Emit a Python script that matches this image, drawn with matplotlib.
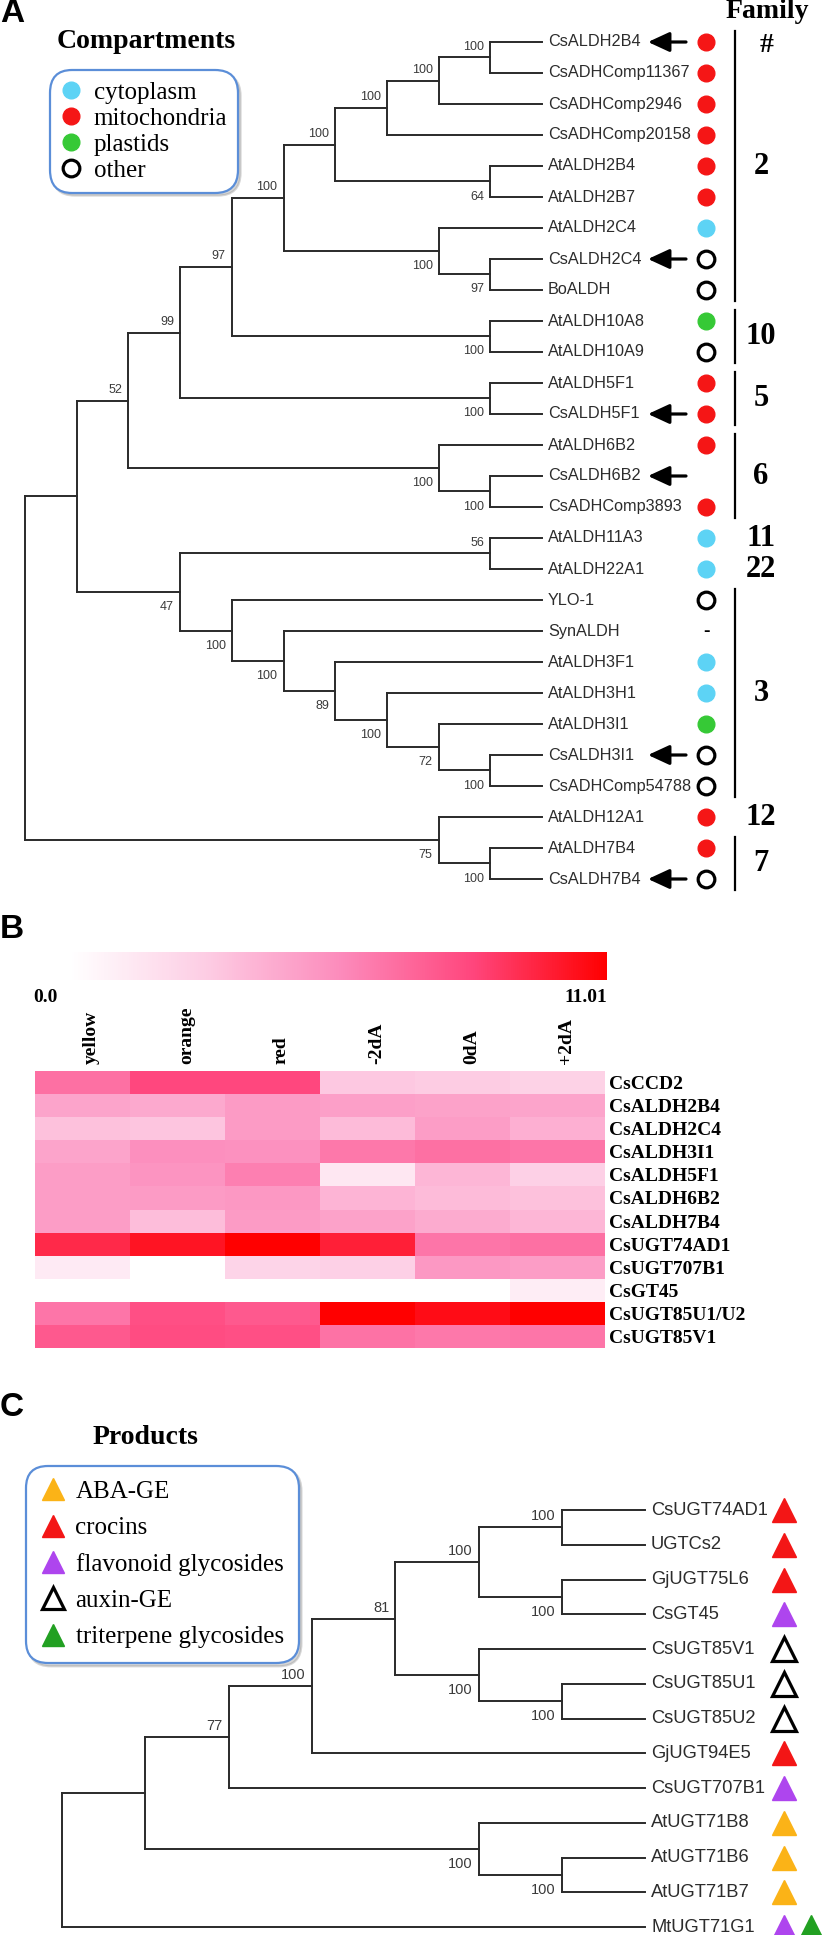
import matplotlib
matplotlib.use("Agg")
import matplotlib.pyplot as plt
import matplotlib.transforms as mtransforms
from matplotlib import font_manager
from matplotlib.collections import LineCollection
from matplotlib.colors import LinearSegmentedColormap
from matplotlib.lines import Line2D
import numpy as np

W, H, DPI = 822, 1935, 100

# ---- panel A: ALDH tree (topology + bootstrap), compartments, families ----
ALDH_NEWICK = (
    "((((((((((CsALDH2B4,CsADHComp11367)100,CsADHComp2946)100,CsADHComp20158)100,"
    "(AtALDH2B4,AtALDH2B7)64)100,(AtALDH2C4,(CsALDH2C4,BoALDH)97)100)100,"
    "(AtALDH10A8,AtALDH10A9)100)97,(AtALDH5F1,CsALDH5F1)100)99,"
    "(AtALDH6B2,(CsALDH6B2,CsADHComp3893)100)100)52,"
    "((AtALDH11A3,AtALDH22A1)56,(YLO-1,(SynALDH,(AtALDH3F1,(AtALDH3H1,"
    "(AtALDH3I1,(CsALDH3I1,CsADHComp54788)100)72)100)89)100)100)47),"
    "(AtALDH12A1,(AtALDH7B4,CsALDH7B4)100)75);"
)
ALDH_COMPARTMENT = [
    "mitochondria", "mitochondria", "mitochondria", "mitochondria", "mitochondria",
    "mitochondria", "cytoplasm", "other", "other", "plastids", "other",
    "mitochondria", "mitochondria", "mitochondria", "", "mitochondria",
    "cytoplasm", "cytoplasm", "other", "-", "cytoplasm", "cytoplasm", "plastids",
    "other", "other", "mitochondria", "mitochondria", "other",
]
ALDH_ARROWS = ["CsALDH2B4", "CsALDH2C4", "CsALDH5F1", "CsALDH6B2", "CsALDH3I1", "CsALDH7B4"]
FAMILY_NAMES = ["2", "10", "5", "6", "11", "22", "3", "12", "7"]
FAMILY_SPANS = [(0, 8), (9, 10), (11, 12), (13, 15), (16, 16), (17, 17), (18, 24), (25, 25), (26, 27)]
FAMILY_BAR = [True, True, True, True, False, False, True, False, True]
COMPARTMENTS = ["cytoplasm", "mitochondria", "plastids", "other"]
COMPARTMENT_COLORS = {"cytoplasm": "#5dd3f5", "mitochondria": "#f51616", "plastids": "#36c936"}

# ---- panel B: expression heatmap ----
HEAT_COLS = ["yellow", "orange", "red", "-2dA", "0dA", "+2dA"]
HEAT_ROWS = ["CsCCD2", "CsALDH2B4", "CsALDH2C4", "CsALDH3I1", "CsALDH5F1", "CsALDH6B2",
             "CsALDH7B4", "CsUGT74AD1", "CsUGT707B1", "CsGT45", "CsUGT85U1/U2", "CsUGT85V1"]
HEAT_VALUES = [
    [6.6, 8.2, 8.2, 3.0, 2.8, 2.5],
    [4.5, 4.3, 4.9, 4.7, 4.6, 4.5],
    [3.3, 3.1, 4.9, 3.5, 4.8, 4.0],
    [4.5, 5.4, 5.3, 6.3, 6.6, 6.4],
    [4.8, 5.2, 6.0, 1.3, 3.7, 2.6],
    [4.8, 4.9, 5.0, 3.8, 3.5, 3.3],
    [4.8, 3.4, 4.9, 4.6, 4.2, 3.7],
    [9.4, 10.2, 11.0, 9.8, 6.4, 6.6],
    [1.2, 0.0, 2.4, 2.6, 5.0, 4.8],
    [0.0, 0.0, 0.0, 0.0, 0.0, 1.0],
    [6.4, 7.9, 7.5, 11.0, 10.5, 11.0],
    [7.5, 8.0, 7.9, 6.5, 6.3, 6.4],
]
HEAT_MIN, HEAT_MAX = 0.0, 11.01

# ---- panel C: UGT tree and products ----
UGT_NEWICK = (
    "(((((((CsUGT74AD1,UGTCs2)100,(GjUGT75L6,CsGT45)100)100,"
    "(CsUGT85V1,(CsUGT85U1,CsUGT85U2)100)100)81,GjUGT94E5)100,CsUGT707B1)77,"
    "(AtUGT71B8,(AtUGT71B6,AtUGT71B7)100)100),MtUGT71G1);"
)
UGT_PRODUCTS = [
    ["crocins"], ["crocins"], ["crocins"], ["flavonoid glycosides"],
    ["auxin-GE"], ["auxin-GE"], ["auxin-GE"], ["crocins"], ["flavonoid glycosides"],
    ["ABA-GE"], ["ABA-GE"], ["ABA-GE"], ["flavonoid glycosides", "triterpene glycosides"],
]
PRODUCTS = ["ABA-GE", "crocins", "flavonoid glycosides", "auxin-GE", "triterpene glycosides"]
PRODUCT_COLORS = {"ABA-GE": "#fbb317", "crocins": "#f31616", "flavonoid glycosides": "#ae45ee",
                  "triterpene glycosides": "#22a022"}


def has_font(name):
    try:
        font_manager.findfont(font_manager.FontProperties(family=name), fallback_to_default=False)
        return True
    except ValueError:
        return False


SANS = "Liberation Sans"
SERIF = "Liberation Serif"
# panel C uses a condensed face in the original; fall back to a smaller regular one
if has_font("Liberation Sans Narrow"):
    NARROW, NARROW_TIP, NARROW_BOOT = "Liberation Sans Narrow", 15, 12
else:
    NARROW, NARROW_TIP, NARROW_BOOT = SANS, 13.2, 10.5


def parse_newick(s):
    s = s.strip().rstrip(";")
    pos = 0

    def node():
        nonlocal pos
        if s[pos] == "(":
            pos += 1
            kids = [node()]
            while s[pos] == ",":
                pos += 1
                kids.append(node())
            pos += 1
            start = pos
            while pos < len(s) and s[pos] not in ",)":
                pos += 1
            n = {"children": kids, "label": s[start:pos], "name": ""}
            for k in kids:
                k["parent"] = n
            return n
        start = pos
        while s[pos] not in ",)":
            pos += 1
        return {"children": [], "label": "", "name": s[start:pos]}

    root = node()
    root["parent"] = None
    return root


def layout(root):
    tips, nodes = [], []

    def height(n):
        n["h"] = 0 if not n["children"] else 1 + max(height(c) for c in n["children"])
        return n["h"]

    def place(n):
        nodes.append(n)
        if not n["children"]:
            n["y"] = len(tips)
            tips.append(n)
        else:
            for c in n["children"]:
                place(c)
            n["y"] = (n["children"][0]["y"] + n["children"][-1]["y"]) / 2

    total = height(root)
    place(root)
    for n in nodes:
        n["x"] = total - n["h"]
    return tips, nodes, total


fig = plt.figure(figsize=(W / DPI, H / DPI), dpi=DPI)


def px_axes(x0, y0, w, h):
    return fig.add_axes([x0 / W, 1 - (y0 + h) / H, w / W, h / H])


def fxy(px, py):
    return px / W, 1 - py / H


def shifted(ax, dx, dy):
    return mtransforms.offset_copy(ax.transData, fig=fig, x=dx, y=dy, units="dots")


def draw_tree(ax, nodes, boot_font, boot_size):
    segs = []
    for n in nodes:
        if n["children"]:
            ys = [c["y"] for c in n["children"]]
            segs.append([(n["x"], min(ys)), (n["x"], max(ys))])
            for c in n["children"]:
                segs.append([(n["x"], c["y"]), (c["x"], c["y"])])
    ax.add_collection(LineCollection(segs, colors="#2a2a2a", linewidths=1.4, capstyle="projecting"))
    for n in nodes:
        if n["children"] and n["label"] and n["parent"] is not None:
            upper = n["parent"]["children"][0] is n
            ax.text(n["x"], n["y"], n["label"], transform=shifted(ax, -6, 11 if upper else -15),
                    ha="right", va="center", fontsize=boot_size, family=boot_font, color="#3a3a3a")


legend_style = dict(frameon=True, fancybox=True, framealpha=1, edgecolor="#5b8ed8",
                    shadow={"color": "0.55", "alpha": 0.35}, bbox_transform=fig.transFigure,
                    loc="upper left", prop={"family": SERIF, "size": 18})

# ================= panel A =================
tree_a = parse_newick(ALDH_NEWICK)
tips_a, nodes_a, depth_a = layout(tree_a)
A_X0, A_STEP, A_Y0, A_DY, A_H = 25, 51.7, 42, 31, 905
ax_a = px_axes(0, 0, W, A_H)
ax_a.set_xlim(-A_X0 / A_STEP, (W - A_X0) / A_STEP)
ax_a.set_ylim((A_H - A_Y0) / A_DY, -A_Y0 / A_DY)
ax_a.axis("off")


def a_x(px):
    return (px - A_X0) / A_STEP


draw_tree(ax_a, nodes_a, SANS, 9)

for i, tip in enumerate(tips_a):
    ax_a.text(tip["x"], tip["y"], tip["name"], transform=shifted(ax_a, 6, 0),
              ha="left", va="center", fontsize=11.7, family=SANS, color="#2c2c2c")
    comp = ALDH_COMPARTMENT[i]
    if comp in COMPARTMENT_COLORS:
        ax_a.plot(a_x(706), tip["y"], "o", ms=12, mfc=COMPARTMENT_COLORS[comp],
                  mec=COMPARTMENT_COLORS[comp])
    elif comp == "other":
        ax_a.plot(a_x(706), tip["y"], "o", ms=12, mfc="white", mec="black", mew=2.3)
    elif comp == "-":
        ax_a.text(a_x(706), tip["y"], "-", ha="center", va="center", fontsize=14,
                  fontweight="bold", family=SANS)
    if tip["name"] in ALDH_ARROWS:
        ax_a.annotate("", xy=(a_x(648), tip["y"]), xytext=(a_x(686), tip["y"]),
                      arrowprops=dict(arrowstyle="-|>,head_length=0.65,head_width=0.3",
                                      color="black", lw=2.3, shrinkA=0, shrinkB=0,
                                      mutation_scale=20))

for name, (first, last), bar in zip(FAMILY_NAMES, FAMILY_SPANS, FAMILY_BAR):
    if bar:
        ax_a.plot([a_x(735), a_x(735)], [first - 0.35, last + 0.35], color="black", lw=1.6)
    ax_a.text(a_x(761), (first + last) / 2, name, ha="center", va="center",
              fontsize=22, fontweight="bold", family=SERIF)
ax_a.text(a_x(767), -0.97, "Family", ha="center", va="center", fontsize=20,
          fontweight="bold", family=SERIF)
ax_a.text(a_x(767), 0.1, "#", ha="center", va="center", fontsize=20,
          fontweight="bold", family=SERIF)

comp_handles = []
for c in COMPARTMENTS:
    if c == "other":
        comp_handles.append(Line2D([], [], ls="none", marker="o", ms=12, mfc="white",
                                   mec="black", mew=2.3, label=c))
    else:
        comp_handles.append(Line2D([], [], ls="none", marker="o", ms=12,
                                   mfc=COMPARTMENT_COLORS[c], mec=COMPARTMENT_COLORS[c], label=c))

leg_a = ax_a.legend(handles=comp_handles, bbox_to_anchor=fxy(42, 63), borderpad=0.22,
                    labelspacing=0.15, handlelength=0.9, handletextpad=0.45, **legend_style)
leg_a.get_frame().set_linewidth(1.6)
leg_a.get_frame().set_boxstyle("round,pad=0.2,rounding_size=0.9")
fig.text(*fxy(146, 42), "Compartments", ha="center", va="center", fontsize=20,
         fontweight="bold", family=SERIF)

# ================= panel B =================
cmap = LinearSegmentedColormap.from_list(
    "wpr", ["#ffffff", "#fdcde4", "#fc8cbc", "#ff467d", "#ff0000"])
ax_b = px_axes(35, 1071, 570, 277)
mesh = ax_b.pcolormesh(np.array(HEAT_VALUES), cmap=cmap, vmin=HEAT_MIN, vmax=HEAT_MAX)
ax_b.set_xlim(0, len(HEAT_COLS))
ax_b.set_ylim(len(HEAT_ROWS), 0)
for s in ax_b.spines.values():
    s.set_visible(False)
ax_b.yaxis.tick_right()
ax_b.set_yticks(np.arange(len(HEAT_ROWS)) + 0.5, HEAT_ROWS)
ax_b.set_xticks([])
ax_b.tick_params(axis="y", length=0, pad=3)
for lab in ax_b.get_yticklabels():
    lab.set_fontfamily(SERIF)
    lab.set_fontweight("bold")
    lab.set_fontsize(14)
for j, col in enumerate(HEAT_COLS):
    ax_b.text(j + 0.5, 0, col, transform=shifted(ax_b, 9, 7), rotation=90,
              ha="center", va="bottom", fontsize=14, fontweight="bold", family=SERIF)

cax = px_axes(70, 952, 537, 28)
cb = fig.colorbar(mesh, cax=cax, orientation="horizontal")
cb.outline.set_visible(False)
cax.set_xticks([])
fig.text(*fxy(33, 997), f"{HEAT_MIN:.1f}", ha="left", va="center", fontsize=14,
         fontweight="bold", family=SERIF)
fig.text(*fxy(607, 997), f"{HEAT_MAX:.2f}", ha="right", va="center", fontsize=14,
         fontweight="bold", family=SERIF)

# ================= panel C =================
tree_c = parse_newick(UGT_NEWICK)
tips_c, nodes_c, depth_c = layout(tree_c)
C_X0, C_STEP, C_Y0, C_DY, C_TOP = 62, 83.3, 1510, 34.75, 1480
ax_c = px_axes(0, C_TOP, W, H - C_TOP)
ax_c.set_xlim(-C_X0 / C_STEP, (W - C_X0) / C_STEP)
ax_c.set_ylim((H - C_Y0) / C_DY, (C_TOP - C_Y0) / C_DY)
ax_c.axis("off")


def c_x(px):
    return (px - C_X0) / C_STEP


draw_tree(ax_c, nodes_c, NARROW, NARROW_BOOT)
for i, tip in enumerate(tips_c):
    ax_c.text(tip["x"], tip["y"], tip["name"], transform=shifted(ax_c, 6, 0),
              ha="left", va="center", fontsize=NARROW_TIP, family=NARROW, color="#2c2c2c")
    for j, prod in enumerate(UGT_PRODUCTS[i]):
        mx = c_x(784 + 27 * j)
        if prod == "auxin-GE":
            ax_c.plot(mx, tip["y"], "^", ms=17, mfc="white", mec="black", mew=2.3, clip_on=False)
        else:
            ax_c.plot(mx, tip["y"], "^", ms=17, mfc=PRODUCT_COLORS[prod],
                      mec=PRODUCT_COLORS[prod], clip_on=False)

prod_handles = []
for p in PRODUCTS:
    if p == "auxin-GE":
        prod_handles.append(Line2D([], [], ls="none", marker="^", ms=16, mfc="white",
                                   mec="black", mew=2.3, label=p))
    else:
        prod_handles.append(Line2D([], [], ls="none", marker="^", ms=16,
                                   mfc=PRODUCT_COLORS[p], mec=PRODUCT_COLORS[p], label=p))
leg_c = ax_c.legend(handles=prod_handles, bbox_to_anchor=fxy(18, 1458), borderpad=0.4,
                    labelspacing=0.55, handlelength=1.0, handletextpad=0.4, **legend_style)
leg_c.get_frame().set_linewidth(1.6)
leg_c.get_frame().set_boxstyle("round,pad=0.2,rounding_size=0.9")
fig.text(*fxy(145, 1438), "Products", ha="center", va="center", fontsize=20,
         fontweight="bold", family=SERIF)

# panel letters
for letter, py in [("A", 13), ("B", 930), ("C", 1407)]:
    fig.text(*fxy(0, py), letter, ha="left", va="center", fontsize=24,
             fontweight="bold", family=SANS)

fig.savefig("out.png", dpi=DPI)
